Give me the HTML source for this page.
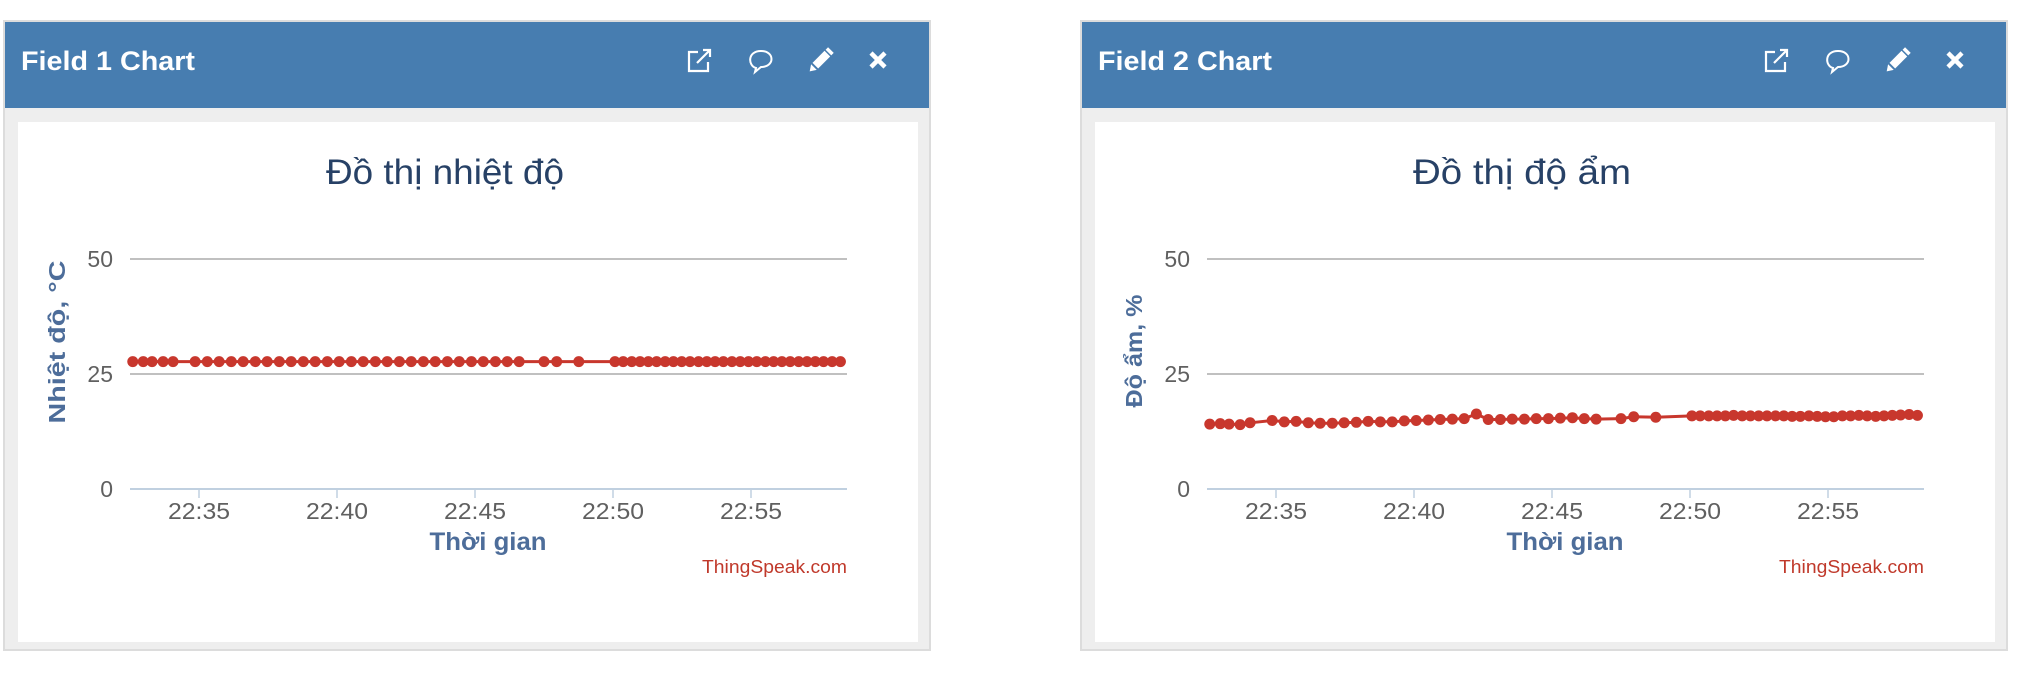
<!DOCTYPE html>
<html><head><meta charset="utf-8">
<style>
html,body{margin:0;padding:0;background:#fff;width:2032px;height:674px;overflow:hidden}
svg{display:block}
text{font-family:"Liberation Sans","DejaVu Sans",sans-serif}
</style></head>
<body>
<svg id="page" width="2032" height="674" xmlns="http://www.w3.org/2000/svg"></svg>
<script>
const tickLabelsX = ["22:35","22:40","22:45","22:50","22:55"];
const tickMinutesX = [5,10,15,20,25];
const tickValuesY = [0,25,50];
const timesMin = [2.6,2.98,3.3,3.7,4.06,
4.86,5.3,5.73,6.17,6.6,7.04,7.47,7.91,8.34,8.78,9.21,9.65,10.08,10.52,10.95,11.39,11.82,12.26,12.69,13.13,13.56,14.0,14.43,14.87,15.3,15.74,16.17,16.6,
17.5,17.96,18.76,
20.07,20.37,20.68,20.98,21.28,21.58,21.89,22.19,22.49,22.79,23.1,23.4,23.7,24.0,24.31,24.61,24.91,25.21,25.52,25.82,26.12,26.42,26.73,27.03,27.33,27.63,27.94,28.24];
const tempValues = [27.7,27.7,27.7,27.7,27.7,27.7,27.7,27.7,27.7,27.7,27.7,27.7,27.7,27.7,27.7,27.7,27.7,27.7,27.7,27.7,27.7,27.7,27.7,27.7,27.7,27.7,27.7,27.7,27.7,27.7,27.7,27.7,27.7,27.7,27.7,27.7,27.7,27.7,27.7,27.7,27.7,27.7,27.7,27.7,27.7,27.7,27.7,27.7,27.7,27.7,27.7,27.7,27.7,27.7,27.7,27.7,27.7,27.7,27.7,27.7,27.7,27.7,27.7,27.7];
const humValues = [14.1,14.2,14.1,14.0,14.4,14.9,14.6,14.7,14.4,14.3,14.3,14.4,14.5,14.7,14.6,14.6,14.8,14.9,15.0,15.1,15.2,15.3,16.3,15.1,15.1,15.2,15.2,15.3,15.3,15.4,15.5,15.3,15.2,15.3,15.7,15.6,15.9,15.9,15.9,15.9,15.9,16.0,15.9,15.9,15.9,15.9,15.9,15.9,15.8,15.8,15.9,15.8,15.7,15.7,15.9,15.9,16.0,15.9,15.8,15.9,16.0,16.1,16.2,16.0];

const NS="http://www.w3.org/2000/svg";
const svg=document.getElementById('page');
function mk(tag,attrs,parent,txt){const e=document.createElementNS(NS,tag);for(const k in attrs)e.setAttribute(k,attrs[k]);if(txt!==undefined)e.textContent=txt;(parent||svg).appendChild(e);return e;}

function panel(ox,field,title,ytitle,ylen,ycy,values,key){
  const g=mk('g',{transform:`translate(${ox},0)`});
  
  
  const outer=mk('rect',{x:4,y:21,width:926,height:629,fill:'#eeeeee',stroke:'#dcdcdc','stroke-width':2},g);
  
  const hdr=mk('rect',{x:5,y:22,width:924,height:86,fill:'#477db0'},g);
  
  const ht=mk('text',{x:21,y:70,fill:'#fff','font-size':27,'font-weight':'bold',textLength:174,lengthAdjust:'spacingAndGlyphs'},g,field);
  
  const ic1=mk('g',{transform:'translate(700,60)',stroke:'#fff','stroke-width':2.2,fill:'none'},g);
  
  mk('path',{d:'M-2,-8 H-11 V11 H8 V2'},ic1);mk('path',{d:'M-3,3 L10,-10 M3,-10 H10 V-3'},ic1);
  const ic2=mk('g',{transform:'translate(761,60)',stroke:'#fff','stroke-width':2,fill:'none'},g);
  
  mk('path',{d:'M-5,8 C-13,6 -14,-9 0,-9 C14,-9 14,7 0,7 L-6,12 Z'},ic2);
  const ic3=mk('g',{transform:'translate(821,60) rotate(45)',fill:'#fff'},g);
  
  mk('rect',{x:-4,y:-9,width:8,height:17},ic3);mk('rect',{x:-4,y:-14,width:8,height:3.5},ic3);mk('path',{d:'M-4,10 L4,10 L0,16 Z'},ic3);
  const ic4=mk('g',{transform:'translate(878,60)',stroke:'#fff','stroke-width':4.5,'stroke-linecap':'butt'},g);
  
  mk('path',{d:'M-7,-7 L7,7 M7,-7 L-7,7'},ic4);
  const wh=mk('rect',{x:18,y:122,width:900,height:520,fill:'#fff'},g);
  
  const tl2 = key==='temperature'?238:218;
  const ct=mk('text',{x:445,y:184,'text-anchor':'middle',fill:'#274166','font-size':35,textLength:tl2,lengthAdjust:'spacingAndGlyphs'},g,title);
  

  const L=130,R=847;
  const xs=t=>199+(t-5)*27.6;
  const ys=v=>489-v*4.6;
  tickValuesY.forEach(v=>{
    if(v>0){const gl=mk('line',{x1:L,x2:R,y1:ys(v),y2:ys(v),stroke:'#c0c0c0','stroke-width':2},g);
    }
    const tl=mk('text',{x:113,y:ys(v)+8,'text-anchor':'end',fill:'#606060','font-size':23},g,String(v));
    
  });
  const ax=mk('line',{x1:L,x2:R,y1:489,y2:489,stroke:'#c0d0e0','stroke-width':2},g);
  
  tickMinutesX.forEach((m,i)=>{
    const tk=mk('line',{x1:xs(m),x2:xs(m),y1:489,y2:498,stroke:'#c0d0e0','stroke-width':1.5},g);
    
    const tl=mk('text',{x:xs(m),y:519,'text-anchor':'middle',fill:'#606060','font-size':23,textLength:62,lengthAdjust:'spacingAndGlyphs'},g,tickLabelsX[i]);
    
  });
  const xt=mk('text',{x:488,y:550,'text-anchor':'middle',fill:'#4d6d9a','font-size':25,'font-weight':'bold',textLength:117,lengthAdjust:'spacingAndGlyphs'},g,'Thời gian');
  
  const yt=mk('text',{x:0,y:0,'text-anchor':'middle',fill:'#4d6d9a','font-size':23,'font-weight':'bold',textLength:ylen,lengthAdjust:'spacingAndGlyphs',transform:`translate(65,${ycy}) rotate(-90)`},g,ytitle);
  
  const cr=mk('text',{x:847,y:573,'text-anchor':'end',fill:'#c0392b','font-size':18,textLength:145,lengthAdjust:'spacingAndGlyphs'},g,'ThingSpeak.com');
  

  const pts=values.map((v,i)=>xs(timesMin[i]).toFixed(1)+','+ys(v).toFixed(1)).join(' ');
  const ln=mk('polyline',{points:pts,fill:'none',stroke:'#c8372d','stroke-width':3},g);
  
  values.forEach((v,i)=>{
    const c=mk('circle',{cx:xs(timesMin[i]),cy:ys(v),r:5.5,fill:'#c8372d'},g);
    
    
  });
}
panel(0,'Field 1 Chart','Đồ thị nhiệt độ','Nhiệt độ, °C',163,342,tempValues,'temperature');
panel(1077,'Field 2 Chart','Đồ thị độ ẩm','Độ ẩm, %',113,351,humValues,'humidity');
</script>
</body></html>
